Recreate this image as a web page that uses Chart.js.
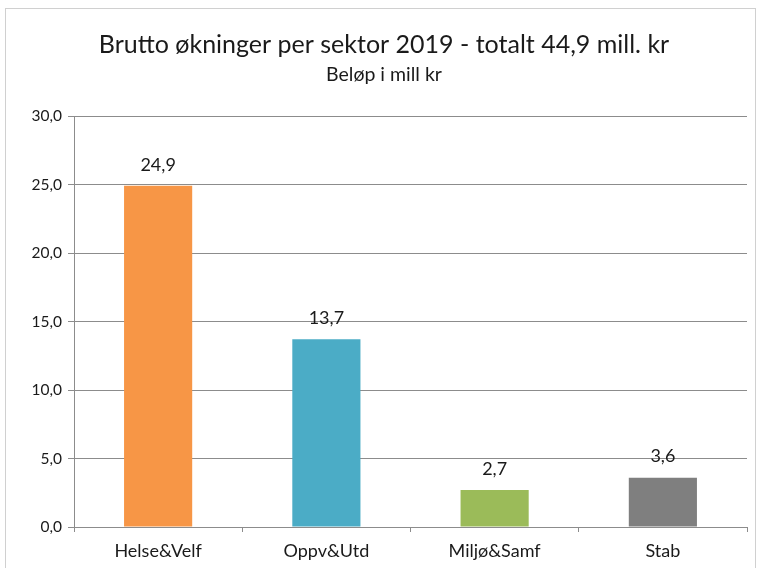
<!DOCTYPE html>
<html>
<head>
<meta charset="utf-8">
<script src="https://cdn.jsdelivr.net/npm/chart.js@4/dist/chart.umd.min.js"></script>
<style>
  html, body { margin: 0; padding: 0; background: #fff; }
  #wrap { width: 762px; height: 568px; position: relative; }
</style>
</head>
<body>
<div id="wrap"><canvas id="sektorChart"></canvas></div>
<script>
// Brutto økninger per sektor 2019
const kategorier = ['Helse&Velf', 'Oppv&Utd', 'Miljø&Samf', 'Stab'];
const belop = [24.9, 13.7, 2.7, 3.6];
const farger = ['#F79646', '#4BACC6', '#9BBB59', '#7F7F7F'];
const yTicks = [0, 5, 10, 15, 20, 25, 30];

const fontFam = 'Lato, "Open Sans", sans-serif';
const tekst = '#1a1a1a';

function komma(v) {
    return v.toFixed(1).replace('.', ',');
}

// ramme rundt hele diagrammet
const rammePlugin = {
    id: 'ramme',
    beforeDraw(chart) {
        const c = chart.ctx;
        c.save();
        c.strokeStyle = '#d0d0d0';
        c.lineWidth = 1;
        c.strokeRect(5.5, 8.5, 750, 600);
        c.restore();
    }
};

// verdier over søylene
const etikettPlugin = {
    id: 'etiketter',
    afterDatasetsDraw(chart) {
        const c = chart.ctx;
        const meta = chart.getDatasetMeta(0);
        c.save();
        c.font = '18px ' + fontFam;
        c.fillStyle = tekst;
        c.textAlign = 'center';
        c.textBaseline = 'middle';
        meta.data.forEach(function (bar, i) {
            c.fillText(komma(belop[i]), bar.x, bar.y - 21);
        });
        c.restore();
    }
};

const ctx = document.getElementById('sektorChart').getContext('2d');
new Chart(ctx, {
    type: 'bar',
    data: {
        labels: kategorier,
        datasets: [{
            data: belop,
            backgroundColor: farger,
            borderWidth: 0,
            categoryPercentage: 1,
            barPercentage: 0.405
        }]
    },
    options: {
        responsive: true,
        maintainAspectRatio: false,
        animation: false,
        layout: { padding: { left: 21, right: 15, top: 0, bottom: 0 } },
        plugins: {
            legend: { display: false },
            tooltip: { enabled: false },
            title: {
                display: true,
                text: 'Brutto økninger per sektor 2019 - totalt 44,9 mill. kr',
                color: tekst,
                font: { family: fontFam, size: 25, weight: 'normal' },
                padding: { top: 30, bottom: 3 }
            },
            subtitle: {
                display: true,
                text: 'Beløp i mill kr',
                color: tekst,
                font: { family: fontFam, size: 19.5, weight: 'normal' },
                padding: { top: 0, bottom: 29.6 }
            }
        },
        scales: {
            y: {
                min: 0,
                max: 30,
                afterBuildTicks(scale) {
                    scale.ticks = yTicks.map(v => ({ value: v }));
                },
                afterFit(scale) { scale.width = 53; },
                ticks: {
                    color: tekst,
                    font: { family: fontFam, size: 15.5 },
                    padding: 6,
                    callback: v => komma(v)
                },
                grid: { color: '#8c8c8c', tickLength: 6, tickColor: '#8c8c8c' },
                border: { display: true, color: '#8c8c8c' }
            },
            x: {
                afterFit(scale) { scale.height = 41; },
                ticks: {
                    color: tekst,
                    font: { family: fontFam, size: 18 },
                    padding: 8
                },
                grid: { drawOnChartArea: false, offset: true, tickLength: 5, color: '#8c8c8c' },
                border: { display: true, color: '#8c8c8c' }
            }
        }
    },
    plugins: [rammePlugin, etikettPlugin]
});
</script>
</body>
</html>
